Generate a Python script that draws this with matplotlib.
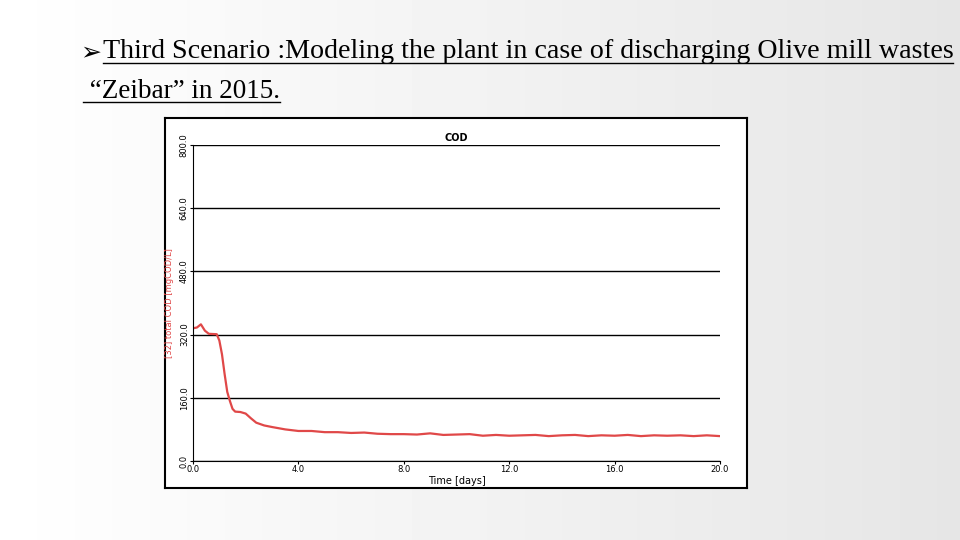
import matplotlib.pyplot as plt
import numpy as np

# COD curve (days, mgCOD/L)
time_days = [0.0, 0.15, 0.3, 0.45, 0.6, 0.9, 1.0, 1.1, 1.2, 1.3, 1.4, 1.5, 1.6, 1.8, 2.0, 2.2,
             2.4, 2.7, 3.0, 3.5, 4.0, 4.5, 5.0, 5.5, 6.0, 6.5, 7.0, 7.5, 8.0, 8.5, 9.0, 9.5,
             10.0, 10.5, 11.0, 11.5, 12.0, 12.5, 13.0, 13.5, 14.0, 14.5, 15.0, 15.5, 16.0,
             16.5, 17.0, 17.5, 18.0, 18.5, 19.0, 19.5, 20.0]
cod_values = [336, 338, 346, 330, 322, 321, 305, 270, 220, 175, 152, 132, 125, 124, 120, 108,
              97, 90, 86, 80, 76, 76, 73, 73, 71, 72, 69, 68, 68, 67, 70, 66,
              67, 68, 64, 66, 64, 65, 66, 63, 65, 66, 63, 65, 64,
              66, 63, 65, 64, 65, 63, 65, 63]
y_ticks = [0, 160, 320, 480, 640, 800]
x_ticks = [0, 4, 8, 12, 16, 20]

fig = plt.figure(figsize=(9.6, 5.4), dpi=100)

# slide background
bg = fig.add_axes([0, 0, 1, 1])
grad = np.linspace(1.0, 0.9, 256).reshape(1, -1)
bg.imshow(grad, cmap='gray', vmin=0, vmax=1, aspect='auto', extent=[0, 1, 0, 1])
bg.set_xlim(0, 1)
bg.set_ylim(0, 1)
bg.axis('off')

fig.text(80 / 960, 1 - 52 / 540, '➢', fontsize=18, va='center', family='DejaVu Sans')
fig.text(103 / 960, 1 - 52 / 540,
         'Third Scenario :Modeling the plant in case of discharging Olive mill wastes',
         fontsize=20.2, va='center', family='Liberation Serif')
fig.text(83 / 960, 1 - 91 / 540, ' \u201cZeibar\u201d in 2015.', fontsize=19.5, va='center',
         family='Liberation Serif')
bg.plot([103 / 960, 953 / 960], [1 - 63 / 540] * 2, color='black', lw=1)
bg.plot([83 / 960, 280 / 960], [1 - 102 / 540] * 2, color='black', lw=1)

# chart panel
panel = fig.add_axes([165 / 960, 1 - 488 / 540, 582 / 960, 370 / 540])
panel.set_xticks([])
panel.set_yticks([])
panel.set_facecolor('white')
for s in panel.spines.values():
    s.set_linewidth(1.5)

ax = fig.add_axes([193 / 960, 1 - 461 / 540, 527 / 960, 316 / 540])
ax.plot(time_days, cod_values, color='#e04848', lw=1.6)
ax.set_xlim(0, 20)
ax.set_ylim(0, 800)
ax.set_xticks(x_ticks)
ax.set_xticklabels([f'{v:.1f}' for v in x_ticks])
ax.set_yticks(y_ticks)
ax.set_yticklabels([f'{v:.1f}' for v in y_ticks], rotation=90, va='center')
ax.yaxis.grid(True, color='black', lw=1)
ax.tick_params(labelsize=6, length=2, pad=1)
for s in ['top', 'right']:
    ax.spines[s].set_visible(False)
ax.set_title('COD', fontsize=7, fontweight='bold', pad=3)
ax.set_xlabel('Time [days]', fontsize=7, labelpad=1)
ax.set_ylabel('[32] total COD [mgCOD/L]', fontsize=6, color='#e04848')
ax.yaxis.set_label_coords(-0.036, 0.5)

fig.savefig('out.png', dpi=100)
